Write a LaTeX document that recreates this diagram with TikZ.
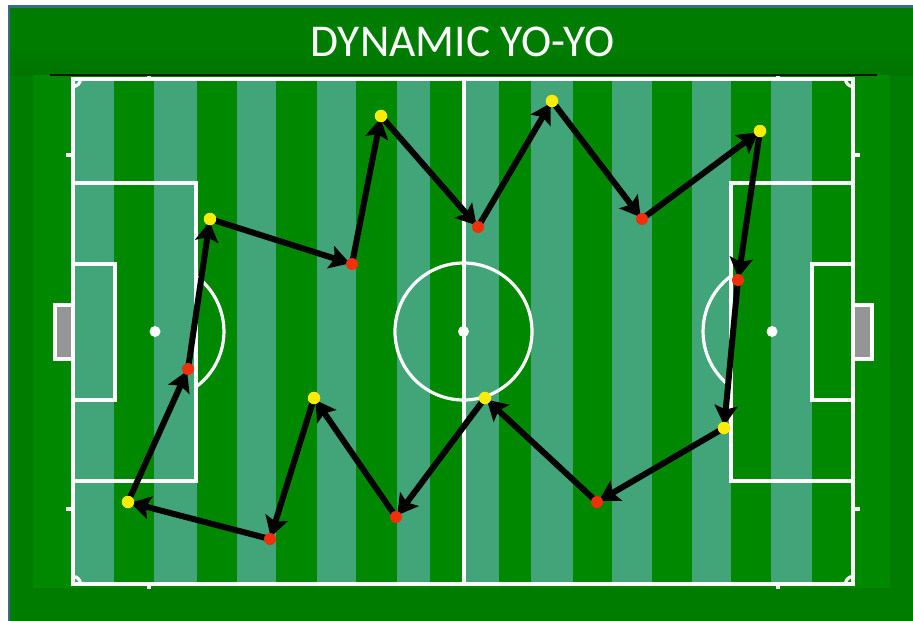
\documentclass[tikz,border=0pt]{standalone}
\usepackage{fontspec}
\setmainfont{Carlito}
\usetikzlibrary{arrows.meta}
\pgfdeclarelayer{dots}
\pgfsetlayers{main,dots}
\definecolor{outergreen}{HTML}{007D00}
\definecolor{bandgreen}{HTML}{007500}
\definecolor{pitchgreen}{HTML}{008800}
\definecolor{stripe}{HTML}{42A57A}
\definecolor{framblue}{HTML}{3A6A86}
\definecolor{goalgray}{HTML}{959595}
\definecolor{dotred}{HTML}{F0300A}
\definecolor{dotyellow}{HTML}{F8EC08}
\tikzset{
  pitchline/.style={draw=white,line width=4pt},
  thinline/.style={draw=white,line width=3.2pt},
  lightstripe/.style={fill=stripe,draw=none},
  spot/.style={circle,fill=white,draw=none,minimum size=11pt,inner sep=0pt},
  rdot/.style={circle,fill=dotred,draw=none,minimum size=12pt,inner sep=0pt},
  ydot/.style={circle,fill=dotyellow,draw=none,minimum size=12.5pt,inner sep=0pt},
  run/.style={draw=black,line width=6pt,-{Stealth[length=20pt,width=23pt,inset=4pt]},shorten >=-4pt,shorten <=-2pt},
  titletext/.style={text=white,font=\fontsize{45.5}{54}\selectfont,inner sep=0pt,anchor=center}
}
\begin{document}
\begin{tikzpicture}[x=1pt,y=-1pt]
\useasboundingbox (0,0) rectangle (913,621);
\fill[white] (0,0) rectangle (913,621);
% frame and outer field
\fill[framblue] (8,5) rectangle (913,621);
\fill[outergreen] (10,8) rectangle (913,621);
\shade[top color=outergreen,bottom color=bandgreen,draw=none] (10,45) rectangle (913,75);
\fill[pitchgreen] (33,75) rectangle (890,588);
\draw[black!80!bandgreen,line width=1.5pt] (50,75) -- (877,75);
% stripes
\foreach \a/\b in {74/113.5,154/197,237/276,316.5/356,396.5/430,465/499,531/573,612/652,692/731,771/812}
  \fill[lightstripe] (\a,79) rectangle (\b,584);
% goals
\filldraw[pitchline,fill=goalgray] (73,304.5) -- (55,304.5) -- (55,358.5) -- (73,358.5);
\filldraw[pitchline,fill=goalgray] (853,304.5) -- (872,304.5) -- (872,358.5) -- (853,358.5);
% outline
\draw[pitchline] (73,79) rectangle (853,584);
\draw[pitchline] (463.5,79) -- (463.5,584);
% corners
\draw[thinline] (73,86.5) arc[start angle=90,end angle=0,radius=7.5];
\draw[thinline] (845.5,79) arc[start angle=180,end angle=90,radius=7.5];
\draw[thinline] (73,576.5) arc[start angle=-90,end angle=0,radius=7.5];
\draw[thinline] (845.5,584) arc[start angle=180,end angle=270,radius=7.5];
% ticks
\draw[pitchline] (149,75.5) -- (149,79);
\draw[pitchline] (778,75.5) -- (778,79);
\draw[pitchline] (149,584) -- (149,589);
\draw[pitchline] (778,584) -- (778,589);
\draw[pitchline] (66,155) -- (73,155);
\draw[pitchline] (66,509) -- (73,509);
\draw[pitchline] (853,155) -- (860,155);
\draw[pitchline] (853,509) -- (860,509);
% boxes
\draw[pitchline] (73,182.5) rectangle (196,481);
\draw[pitchline] (73,264) rectangle (115,400);
\draw[pitchline] (853,182.5) rectangle (731,481);
\draw[pitchline] (853,264) rectangle (812,400);
% circle and arcs
\draw[thinline] (463.5,331.5) circle[radius=68.5];
\draw[thinline] (196,276) arc[start angle=-53.5,end angle=53.5,radius=69];
\draw[thinline] (731,276) arc[start angle=233.5,end angle=126.5,radius=69];
\node[spot] (lspot) at (155,331.5) {};
\node[spot] (cspot) at (463.5,331.5) {};
\node[spot] (rspot) at (772,331.5) {};
% title
\node[titletext] (title) at (462.5,42) {DYNAMIC YO-YO};
% dots
\begin{pgfonlayer}{dots}
\node[ydot] (a) at (128,502) {};
\node[rdot] (b) at (188,369) {};
\node[ydot] (c) at (210,219) {};
\node[rdot] (d) at (352,264) {};
\node[ydot] (e) at (381,116) {};
\node[rdot] (f) at (478,227) {};
\node[ydot] (g) at (552,101) {};
\node[rdot] (h) at (642,219) {};
\node[ydot] (i) at (760,131) {};
\node[rdot] (j) at (738,280) {};
\node[ydot] (k) at (724,428) {};
\node[rdot] (l) at (597,502) {};
\node[ydot] (m) at (485,398) {};
\node[rdot] (n) at (396,517) {};
\node[ydot] (o) at (314,398) {};
\node[rdot] (p) at (270,539) {};
\end{pgfonlayer}
% runs
\foreach \s/\t in {a/b,b/c,c/d,d/e,e/f,f/g,g/h,h/i,i/j,j/k,k/l,l/m,m/n,n/o,o/p,p/a}
  \draw[run] (\s) -- (\t);
\end{tikzpicture}
\end{document}
